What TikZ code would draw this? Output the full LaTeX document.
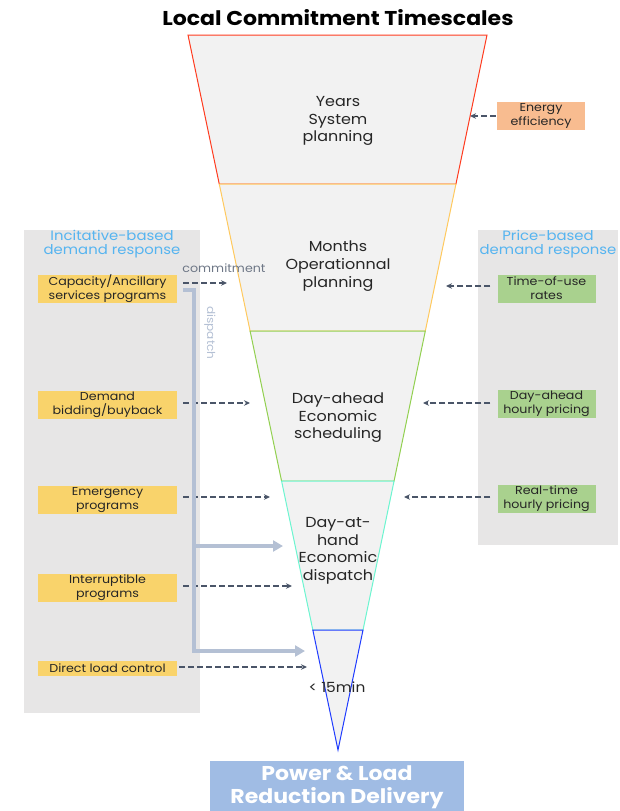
\documentclass[tikz,border=0pt]{standalone}
\usepackage{fontspec}
\setmainfont{Poppins}[FakeStretch=1.1]
\usetikzlibrary{arrows.meta,calc,positioning}

\definecolor{funnelgray}{HTML}{F2F2F2}
\definecolor{stageone}{HTML}{FF3B1F}
\definecolor{stagetwo}{HTML}{FFC95E}
\definecolor{stagethree}{HTML}{92D050}
\definecolor{stagefour}{HTML}{6CF5D0}
\definecolor{stagefive}{HTML}{1F3BFF}
\definecolor{panelgray}{HTML}{E7E6E6}
\definecolor{incyellow}{HTML}{F9D36B}
\definecolor{pricegreen}{HTML}{A9D18E}
\definecolor{effcorange}{HTML}{F8BC90}
\definecolor{arrowslate}{HTML}{4A5568}
\definecolor{dispatchblue}{HTML}{B4C0D4}
\definecolor{paneltitle}{HTML}{56B4F0}
\definecolor{textdark}{HTML}{262626}
\definecolor{deliveryblue}{HTML}{A0BCE4}

\tikzset{
  stage/.style={fill=funnelgray, line width=1pt, line join=miter},
  stagetext/.style={align=center, text=textdark, font=\fontsize{14.5}{17.5}\selectfont},
  incbox/.style={fill=incyellow, minimum width=139pt, minimum height=28pt, inner sep=0pt,
    align=center, text=textdark, font=\fontsize{11.5}{14}\selectfont},
  pricebox/.style={incbox, fill=pricegreen, minimum width=98pt},
  paneltext/.style={align=center, text=paneltitle, font=\fontsize{13.5}{14}\selectfont},
  dasharrow/.style={draw=arrowslate, line width=1.6pt, dash pattern=on 6pt off 3pt,
    -{Stealth[length=6pt,width=5.5pt]}},
  dispatcharrow/.style={draw=dispatchblue, line width=4.5pt,
    -{Triangle[length=10pt,width=11pt]}},
}

\begin{document}
\begin{tikzpicture}[x=1pt,y=-1pt]
  \useasboundingbox (0,0) rectangle (619,811);

  % side panels
  \fill[panelgray] (24,230) rectangle (200,713);
  \fill[panelgray] (478,230) rectangle (618,545);

  % funnel
  \coordinate (tl) at (188,35);
  \coordinate (tr) at (487,35);
  \coordinate (apex) at (338,750);
  \foreach \name/\f in {b1/0.2084, b2/0.414, b3/0.6238, b4/0.8322} {
    \coordinate (\name l) at ($(tl)!\f!(apex)$);
    \coordinate (\name r) at ($(tr)!\f!(apex)$);
  }
  \draw[stage, draw=stageone] (tl) -- (tr) -- (b1r) -- (b1l) -- cycle;
  \draw[stage, draw=stagetwo] (b1l) -- (b1r) -- (b2r) -- (b2l) -- cycle;
  \draw[stage, draw=stagethree] (b2l) -- (b2r) -- (b3r) -- (b3l) -- cycle;
  \draw[stage, draw=stagefour] (b3l) -- (b3r) -- (b4r) -- (b4l) -- cycle;
  \draw[stage, draw=stagefive] (b4l) -- (b4r) -- (apex) -- cycle;

  \node[stagetext] (years) at (338,121) {Years\\System\\planning};
  \node[stagetext, font=\fontsize{14.5}{18}\selectfont] (months) at (338,266) {Months\\Operationnal\\planning};
  \node[stagetext] (dayahead) at (338,418) {Day-ahead\\Economic\\scheduling};
  \node[stagetext] (dayathand) at (338,551) {Day-at-\\hand\\Economic\\dispatch};
  \node[stagetext, font=\fontsize{14}{15}\selectfont] (quarter) at (337,687) {< 15min};

  % title
  \node[font=\bfseries\fontsize{20}{22}\selectfont, text=black] (title) at (338,18) {Local Commitment Timescales};

  % panel titles
  \node[paneltext] (inctitle) at (112,244) {Incitative-based\\demand response};
  \node[paneltext] (pricetitle) at (548,244) {Price-based\\demand response};

  % incitative programs
  \node[incbox] (capacity) at (107.5,288.5) {Capacity/Ancillary\\services programs};
  \node[incbox] (bidding) at (107.5,404.5) {Demand\\bidding/buyback};
  \node[incbox] (emergency) at (107.5,500) {Emergency\\programs};
  \node[incbox] (interrupt) at (107.5,588) {Interruptible\\programs};
  \node[incbox, minimum height=15pt] (direct) at (107.5,668.5) {Direct load control};

  % price programs
  \node[incbox, fill=effcorange, minimum width=88pt] (efficiency) at (541,116) {Energy\\efficiency};
  \node[pricebox] (timeofuse) at (546.5,288.5) {Time-of-use\\rates};
  \node[pricebox] (hourly) at (546.5,404) {Day-ahead\\hourly pricing};
  \node[pricebox] (realtime) at (546.5,499) {Real-time\\hourly pricing};

  % arrow tips
  \coordinate (committip) at (227,283);
  \coordinate (biddingtip) at (250,403);
  \coordinate (emergencytip) at (270,497);
  \coordinate (interrupttip) at (292,586);
  \coordinate (directtip) at (307,667);
  \coordinate (efficiencytip) at (470,116);
  \coordinate (timeofusetip) at (446,286);
  \coordinate (hourlytip) at (423,403);
  \coordinate (realtimetip) at (404,497);

  % commitment arrows
  \draw[dasharrow, shorten <=6pt] (capacity.east |- committip) -- (committip);
  \draw[dasharrow, shorten <=6pt] (bidding.east |- biddingtip) -- (biddingtip);
  \draw[dasharrow, shorten <=6pt] (emergency.east |- emergencytip) -- (emergencytip);
  \draw[dasharrow, shorten <=6pt] (interrupt.east |- interrupttip) -- (interrupttip);
  \draw[dasharrow, shorten <=2pt] (direct.east |- directtip) -- (directtip);
  \draw[dasharrow, shorten <=1pt] (efficiency.west |- efficiencytip) -- (efficiencytip);
  \draw[dasharrow, shorten <=7pt] (timeofuse.west |- timeofusetip) -- (timeofusetip);
  \draw[dasharrow, shorten <=7pt] (hourly.west |- hourlytip) -- (hourlytip);
  \draw[dasharrow, shorten <=7pt] (realtime.west |- realtimetip) -- (realtimetip);

  \node[text=arrowslate!80, font=\fontsize{11.5}{12}\selectfont] (commitlabel) at (224,268) {commitment};

  % dispatch bracket
  \coordinate (dtop) at (183,290);
  \coordinate (dcorner) at (194,651);
  \coordinate (dbranch) at (194,546);
  \coordinate (dtip) at (305,651);
  \coordinate (dbranchtip) at (283,546);
  \draw[dispatcharrow] (dtop) -| (dcorner) -- (dtip);
  \draw[dispatcharrow] (dbranch) -- (dbranchtip);
  \node[rotate=-90, text=dispatchblue, font=\fontsize{11}{12}\selectfont] (dispatchlabel) at (210,333) {dispatch};

  % delivery
  \node[fill=deliveryblue, minimum width=254pt, minimum height=53pt, inner sep=0pt, align=center,
    text=white, font=\bfseries\fontsize{20}{23}\selectfont] (delivery) at (337,787)
    {Power \& Load\\Reduction Delivery};
\end{tikzpicture}
\end{document}
